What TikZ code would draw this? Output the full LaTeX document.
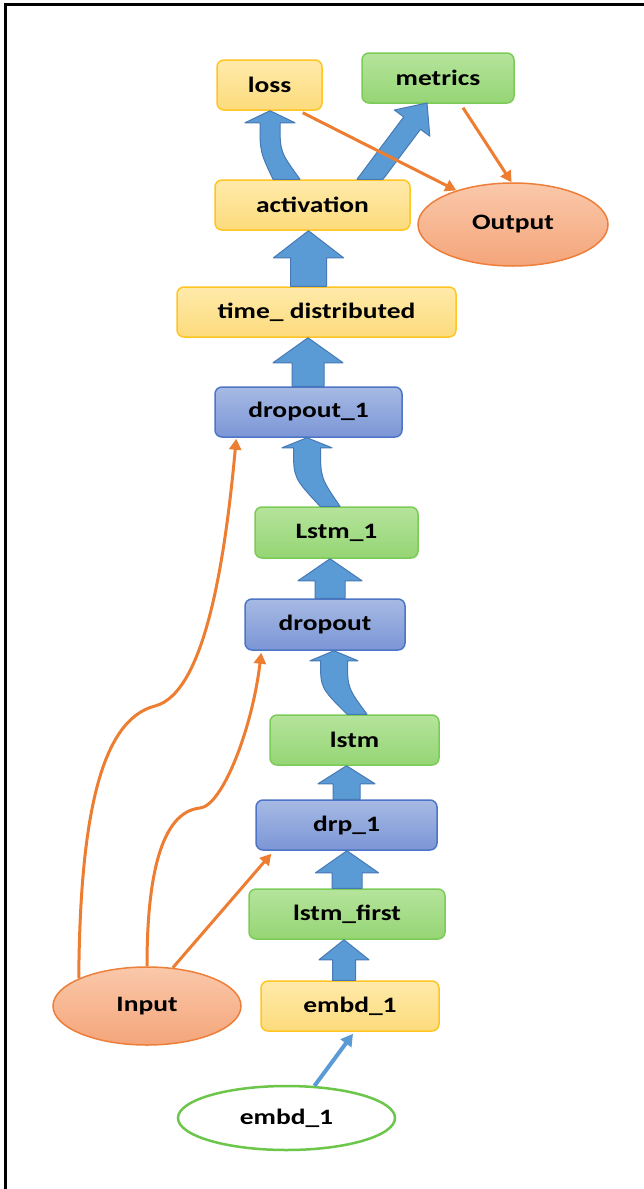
\documentclass[tikz,border=0pt]{standalone}
\usepackage{fontspec}
\newfontfamily\lab{Carlito}[FakeStretch=1.25]
\usetikzlibrary{shapes.geometric,arrows.meta,calc}
\definecolor{ytop}{HTML}{FFEAAA}
\definecolor{ybot}{HTML}{FCDB7C}
\definecolor{ybord}{HTML}{FFC524}
\definecolor{gtop}{HTML}{B5E49C}
\definecolor{gbot}{HTML}{95D574}
\definecolor{gbord}{HTML}{7CCB57}
\definecolor{btop}{HTML}{A7BAE4}
\definecolor{bbot}{HTML}{7B96D6}
\definecolor{bbord}{HTML}{4D74C6}
\definecolor{otop}{HTML}{FAC8AA}
\definecolor{obot}{HTML}{F4A57A}
\definecolor{obord}{HTML}{EE7F3A}
\definecolor{orangeC}{HTML}{ED7D31}
\definecolor{blkfill}{HTML}{5B9BD5}
\definecolor{blkbord}{HTML}{4679B5}
\definecolor{thinblue}{HTML}{5B9BD5}
\definecolor{eborder}{HTML}{6CC64A}

\newcommand\blkup[6]{%
\path[blk] let \p1=(#1.north), \p2=(#2.south), \p3=(#3,0) in
 (\x3-#4pt,\y1) -- (\x3-#4pt,\y2-#6pt) -- (\x3-#5pt,\y2-#6pt) -- (\x3,\y2)
 -- (\x3+#5pt,\y2-#6pt) -- (\x3+#4pt,\y2-#6pt) -- (\x3+#4pt,\y1) -- cycle;}
\newcommand\blkcurve[9]{%
\path[blk] let \p1=(#1.north), \p2=(#2.south), \p3=(#3,0), \p4=(#5,0) in
 (\x3-#4pt,\y1) .. controls (\x4-#6pt,\y2-#8pt-#9pt) .. (\x4-#6pt,\y2-#8pt)
 -- (\x4-#7pt,\y2-#8pt) -- (\x4,\y2) -- (\x4+#7pt,\y2-#8pt) -- (\x4+#6pt,\y2-#8pt)
 .. controls (\x4+#6pt,\y2-#8pt-#9pt) .. (\x3+#4pt,\y1) -- cycle;}

\begin{document}
\begin{tikzpicture}[x=1pt,y=-1pt,
  box/.style={rectangle, rounded corners=7pt, line width=1.5pt, inner sep=0pt,
    font=\lab\bfseries\fontsize{22}{26}\selectfont, text=black},
  ybox/.style={box, draw=ybord, top color=ytop, bottom color=ybot},
  gbox/.style={box, draw=gbord, top color=gtop, bottom color=gbot},
  bbox/.style={box, draw=bbord, top color=btop, bottom color=bbot},
  oell/.style={ellipse, line width=1.5pt, inner sep=0pt, draw=obord, top color=otop, bottom color=obot,
    font=\lab\bfseries\fontsize{22}{26}\selectfont, text=black},
  wel/.style={ellipse, line width=2.5pt, inner sep=0pt, draw=eborder, fill=white,
    font=\lab\bfseries\fontsize{22}{26}\selectfont, text=black},
  blk/.style={fill=blkfill, draw=blkbord, line width=1pt, line join=round},
  oarr/.style={draw=orangeC, line width=3pt, -{Triangle[width=12pt,length=11pt]}},
  barr/.style={draw=thinblue, line width=4pt, -{Triangle[width=13pt,length=12pt]}},
  frame/.style={draw=black, line width=3pt}
]
\useasboundingbox (0,0) rectangle (644,1189);
\fill[white] (0,0) rectangle (644,1189);

% frame
\coordinate (fb) at (5,1189);
\coordinate (fc) at (5,4);
\coordinate (fr) at (644,4);
\draw[frame] (fb) -- (fc) -- (fr);

% nodes
\node[ybox, minimum width=105, minimum height=50] (loss) at (269.5,85) {loss};
\node[gbox, minimum width=152, minimum height=50] (met) at (438,78) {metrics};
\node[ybox, minimum width=195, minimum height=50] (act) at (312.5,205) {activation};
\node[oell, minimum width=190, minimum height=83] (out) at (513,224.5) {Output};
\node[ybox, minimum width=279, minimum height=50] (td) at (316.5,312) {time\_ distributed};
\node[bbox, minimum width=187, minimum height=50] (drop1) at (308.5,412) {dropout\_1};
\node[gbox, minimum width=163, minimum height=51] (lstm1) at (336.5,532.5) {Lstm\_1};
\node[bbox, minimum width=160, minimum height=51] (drop) at (325,624.5) {dropout};
\node[gbox, minimum width=169, minimum height=50] (lstm) at (354.5,740) {lstm};
\node[bbox, minimum width=181, minimum height=50] (drp1) at (346.5,825) {drp\_1};
\node[gbox, minimum width=196, minimum height=50] (lstmf) at (347,914) {lstm\_first};
\node[ybox, minimum width=178, minimum height=50] (emb) at (350,1006) {embd\_1};
\node[oell, minimum width=188, minimum height=78] (inp) at (147,1006) {Input};
\node[wel, minimum width=217, minimum height=64] (embe) at (286.5,1118) {embd\_1};

% block arrows (straight)
\blkup{emb}{lstmf}{344}{11.5}{25}{20}
\blkup{lstmf}{drp1}{347}{15}{31.5}{22}
\blkup{drp1}{lstm}{346.5}{13.5}{28.5}{18}
\blkup{drop}{lstm1}{330}{15}{32}{22}
\blkup{drop1}{td}{308}{16}{35}{25}
\blkup{td}{act}{308.5}{18}{35}{27}

% block arrows (curved)
\blkcurve{lstm}{drop}{357}{10}{334}{13.5}{24}{10}{27}
\blkcurve{lstm1}{drop1}{330}{10}{307}{13.5}{25}{10}{30}
\blkcurve{act}{loss}{286.5}{13.5}{270}{10}{25}{12}{29}

% diagonal block arrow activation -> metrics
\path[blk] ($(act.north)+(44.5,0)$) -- (403.7,116.9) -- (394.4,110) -- (427,103)
  -- (429.8,136.2) -- (420.5,129.3) -- ($(act.north)+(70.5,0)$) -- cycle;

% orange connectors
\draw[oarr] ($(loss.south east)+(-20,2)$) -- (out.149);
\draw[oarr] ($(met.south)+(25,4)$) -- (out.92);
\draw[oarr] (inp.56) -- ($(drp1.south west)+(16,3)$);
\draw[oarr] (inp.north) .. controls (147,880) and (160,812) .. (200,808)
  .. controls (222,806) and (252,730) .. ($(drop.south west)+(17,2)$);
\draw[oarr] (inp.158) .. controls (80,820) and (100,720) .. (155,706)
  .. controls (205,693) and (225,560) .. ($(drop1.south west)+(22,1)$);

% thin blue connector
\draw[barr] (embe.49) -- ($(emb.south)+(3,2)$);
\end{tikzpicture}
\end{document}
